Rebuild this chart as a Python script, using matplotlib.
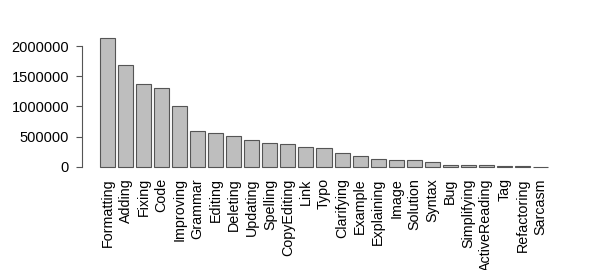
import matplotlib.pyplot as plt

categories = ['Formatting', 'Adding', 'Fixing', 'Code', 'Improving', 'Grammar',
              'Editing', 'Deleting', 'Updating', 'Spelling', 'CopyEditing', 'Link',
              'Typo', 'Clarifying', 'Example', 'Explaining', 'Image', 'Solution',
              'Syntax', 'Bug', 'Simplifying', 'ActiveReading', 'Tag', 'Refactoring',
              'Sarcasm']
counts = [2130000, 1690000, 1370000, 1310000, 1000000, 595000,
          560000, 510000, 450000, 400000, 380000, 335000,
          310000, 230000, 180000, 130000, 115000, 110000,
          80000, 30000, 25000, 25000, 22000, 15000, 5000]

plt.rcParams['font.family'] = ['Liberation Sans', 'DejaVu Sans']

fig = plt.figure(figsize=(5.98, 2.70), dpi=100)
ax = fig.add_axes([82 / 598, (270 - 172) / 270, (566 - 82) / 598, (172 - 33) / 270])

n = len(categories)
pos = [0.7 + 1.2 * i for i in range(n)]
ax.bar(pos, counts, width=1.0, color='#bebebe', edgecolor='#555555', linewidth=0.8)

w = 1.2 * n
ax.set_xlim(0.2 - 0.04 * (w - 0.2), w + 0.04 * (w - 0.2))
top = max(counts)
ax.set_ylim(-0.04 * top, top * 1.04)

ax.set_xticks(pos)
ax.set_xticklabels(categories, rotation=90, fontsize=10.3)
ax.tick_params(axis='x', length=0, pad=4.5)
ax.set_yticks([0, 500000, 1000000, 1500000, 2000000])
ax.set_yticklabels(['0', '500000', '1000000', '1500000', '2000000'], fontsize=10.5)
ax.tick_params(axis='y', length=4.3, width=0.8, color='#555555', pad=5)

for s in ['top', 'right', 'bottom']:
    ax.spines[s].set_visible(False)
ax.spines['left'].set_bounds(0, 2000000)
ax.spines['left'].set_color('#555555')
ax.spines['left'].set_linewidth(0.8)

fig.savefig('out.png', dpi=100)
